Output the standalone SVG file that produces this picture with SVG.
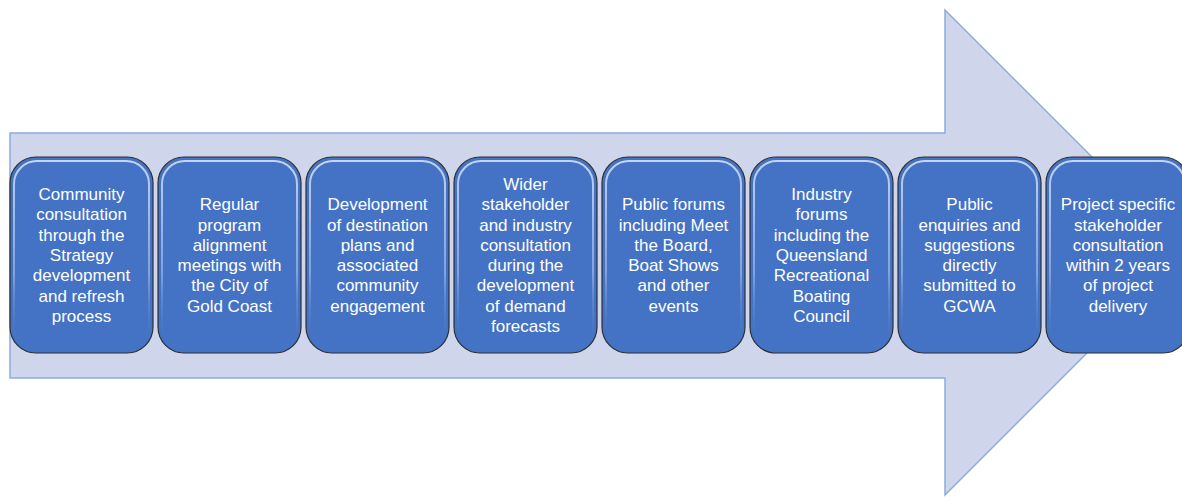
<svg xmlns="http://www.w3.org/2000/svg" width="1182" height="497" viewBox="0 0 1182 497">
<defs>
<linearGradient id="bevel" x1="0" y1="0" x2="0" y2="1">
<stop offset="0" stop-color="#dbe6fa" stop-opacity="0.85"/>
<stop offset="0.6" stop-color="#b4c8ee" stop-opacity="0.55"/>
<stop offset="1" stop-color="#4472c4" stop-opacity="0"/>
</linearGradient>
<style>
.box{fill:#4472c4;stroke:#2f2f2f;stroke-width:1.2}
.bev{fill:none;stroke:url(#bevel);stroke-width:2}
.t{font-family:"Liberation Sans",Arial,sans-serif;font-size:17px;fill:#ffffff;text-anchor:middle}
</style>
</defs>
<rect width="1182" height="497" fill="#ffffff"/>
<g id="arrow">
<path d="M10,133 H945 V10 L1187.5,252.5 L945,495 V378 H10 Z" fill="#cfd5ea" stroke="#8eaadb" stroke-width="1.5"/>
</g>
<g id="connectors"></g>
<g id="n1">
<rect class="box" x="10" y="157" width="143" height="196" rx="26"/>
<rect class="bev" x="14" y="161" width="135" height="188" rx="23"/>
<text class="t" x="81.5" y="200">
<tspan x="81.5" dy="0">Community</tspan><tspan x="81.5" dy="20.3">consultation</tspan><tspan x="81.5" dy="20.3">through the</tspan><tspan x="81.5" dy="20.3">Strategy</tspan><tspan x="81.5" dy="20.3">development</tspan><tspan x="81.5" dy="20.3">and refresh</tspan><tspan x="81.5" dy="20.3">process</tspan></text>
</g>
<g id="n2">
<rect class="box" x="158" y="157" width="143" height="196" rx="26"/>
<rect class="bev" x="162" y="161" width="135" height="188" rx="23"/>
<text class="t" x="229.5" y="210.2">
<tspan x="229.5" dy="0">Regular</tspan><tspan x="229.5" dy="20.3">program</tspan><tspan x="229.5" dy="20.3">alignment</tspan><tspan x="229.5" dy="20.3">meetings with</tspan><tspan x="229.5" dy="20.3">the City of</tspan><tspan x="229.5" dy="20.3">Gold Coast</tspan></text>
</g>
<g id="n3">
<rect class="box" x="306" y="157" width="143" height="196" rx="26"/>
<rect class="bev" x="310" y="161" width="135" height="188" rx="23"/>
<text class="t" x="377.5" y="210.2">
<tspan x="377.5" dy="0">Development</tspan><tspan x="377.5" dy="20.3">of destination</tspan><tspan x="377.5" dy="20.3">plans and</tspan><tspan x="377.5" dy="20.3">associated</tspan><tspan x="377.5" dy="20.3">community</tspan><tspan x="377.5" dy="20.3">engagement</tspan></text>
</g>
<g id="n4">
<rect class="box" x="454" y="157" width="143" height="196" rx="26"/>
<rect class="bev" x="458" y="161" width="135" height="188" rx="23"/>
<text class="t" x="525.5" y="189.9">
<tspan x="525.5" dy="0">Wider</tspan><tspan x="525.5" dy="20.3">stakeholder</tspan><tspan x="525.5" dy="20.3">and industry</tspan><tspan x="525.5" dy="20.3">consultation</tspan><tspan x="525.5" dy="20.3">during the</tspan><tspan x="525.5" dy="20.3">development</tspan><tspan x="525.5" dy="20.3">of demand</tspan><tspan x="525.5" dy="20.3">forecasts</tspan></text>
</g>
<g id="n5">
<rect class="box" x="602" y="157" width="143" height="196" rx="26"/>
<rect class="bev" x="606" y="161" width="135" height="188" rx="23"/>
<text class="t" x="673.5" y="210.2">
<tspan x="673.5" dy="0">Public forums</tspan><tspan x="673.5" dy="20.3">including Meet</tspan><tspan x="673.5" dy="20.3">the Board,</tspan><tspan x="673.5" dy="20.3">Boat Shows</tspan><tspan x="673.5" dy="20.3">and other</tspan><tspan x="673.5" dy="20.3">events</tspan></text>
</g>
<g id="n6">
<rect class="box" x="750" y="157" width="143" height="196" rx="26"/>
<rect class="bev" x="754" y="161" width="135" height="188" rx="23"/>
<text class="t" x="821.5" y="200">
<tspan x="821.5" dy="0">Industry</tspan><tspan x="821.5" dy="20.3">forums</tspan><tspan x="821.5" dy="20.3">including the</tspan><tspan x="821.5" dy="20.3">Queensland</tspan><tspan x="821.5" dy="20.3">Recreational</tspan><tspan x="821.5" dy="20.3">Boating</tspan><tspan x="821.5" dy="20.3">Council</tspan></text>
</g>
<g id="n7">
<rect class="box" x="898" y="157" width="143" height="196" rx="26"/>
<rect class="bev" x="902" y="161" width="135" height="188" rx="23"/>
<text class="t" x="969.5" y="210.2">
<tspan x="969.5" dy="0">Public</tspan><tspan x="969.5" dy="20.3">enquiries and</tspan><tspan x="969.5" dy="20.3">suggestions</tspan><tspan x="969.5" dy="20.3">directly</tspan><tspan x="969.5" dy="20.3">submitted to</tspan><tspan x="969.5" dy="20.3">GCWA</tspan></text>
</g>
<g id="n8">
<rect class="box" x="1046" y="157" width="143" height="196" rx="26"/>
<rect class="bev" x="1050" y="161" width="135" height="188" rx="23"/>
<text class="t" x="1118" y="210.2">
<tspan x="1118" dy="0">Project specific</tspan><tspan x="1118" dy="20.3">stakeholder</tspan><tspan x="1118" dy="20.3">consultation</tspan><tspan x="1118" dy="20.3">within 2 years</tspan><tspan x="1118" dy="20.3">of project</tspan><tspan x="1118" dy="20.3">delivery</tspan></text>
</g>
</svg>
